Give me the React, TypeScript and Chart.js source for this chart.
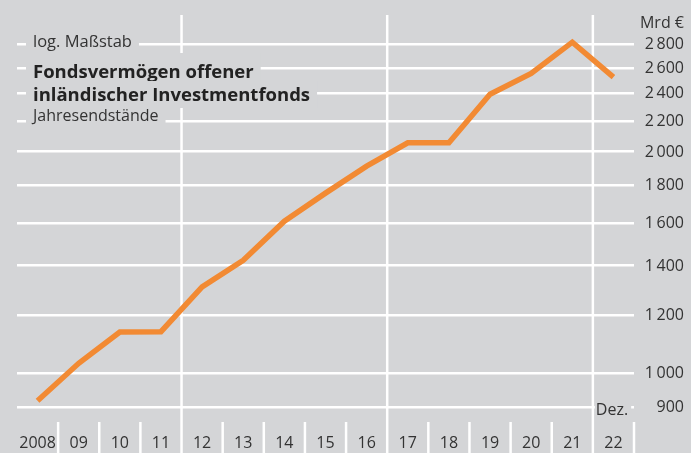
import React, { useEffect, useRef } from "react";
import { Chart, registerables } from "chart.js";

Chart.register(...registerables);

// ---- data ----
const years = ["2008", "09", "10", "11", "12", "13", "14", "15", "16", "17", "18", "19", "20", "21", "22"];
const fundAssets = [918, 1032, 1138, 1139, 1310, 1424, 1609, 1757, 1912, 2056, 2056, 2394, 2554, 2817, 2525];
const yTickValues = [900, 1000, 1200, 1400, 1600, 1800, 2000, 2200, 2400, 2600, 2800];
const unitLabel = "Mrd €";
const scaleNote = "log. Maßstab";
const titleLines = ["Fondsvermögen offener", "inländischer Investmentfonds"];
const subtitle = "Jahresendstände";
const monthNote = "Dez.";
const fullDividers = [4, 9, 14];
const yMin = 900;
const yMax = 3067;

// ---- styles ----
const BG = "#d4d5d7";
const FONT = "'Open Sans', sans-serif";
const TEXT = "#333333";
const TITLE = "#222222";
const LINE = "#f28a33";

function fmt(v: number): string {
  if (v >= 1000) {
    const t = Math.floor(v / 1000);
    const r = String(Math.round(v % 1000)).padStart(3, "0");
    return `${t}\u2009${r}`;
  }
  return String(v);
}

const decor = {
  id: "decor",
  beforeDatasetsDraw(chart: any) {
    const { ctx, chartArea, scales } = chart;
    const x = scales.x;
    const y = scales.y;
    const n = years.length;
    const step = x.getPixelForValue(1) - x.getPixelForValue(0);
    const boundary = (i: number) => x.getPixelForValue(i) - step / 2;
    const H = chart.height;
    ctx.save();
    ctx.strokeStyle = "#ffffff";
    ctx.lineWidth = 2.5;
    for (let i = 1; i <= n; i++) {
      const bx = boundary(i);
      const full = fullDividers.includes(i);
      ctx.beginPath();
      ctx.moveTo(bx, full ? chartArea.top : 422);
      ctx.lineTo(bx, H);
      ctx.stroke();
    }

    const items = [
      { text: scaleNote, font: `400 16.5px ${FONT}`, color: TEXT, base: 47, top: 33, bottom: 53 },
      { text: titleLines[0], font: `700 18.5px ${FONT}`, color: TITLE, base: 77.5, top: 53, bottom: 81 },
      { text: titleLines[1], font: `700 18.5px ${FONT}`, color: TITLE, base: 100.5, top: 81, bottom: 108 },
      { text: subtitle, font: `400 16px ${FONT}`, color: TEXT, base: 121, top: 108, bottom: 129 },
    ];
    const tx = 33;
    for (const it of items) {
      ctx.font = it.font;
      const w = ctx.measureText(it.text).width;
      ctx.fillStyle = BG;
      ctx.fillRect(26, it.top, tx + w + 7 - 26, it.bottom - it.top);
      ctx.fillStyle = it.color;
      ctx.textAlign = "left";
      ctx.textBaseline = "alphabetic";
      ctx.fillText(it.text, tx, it.base);
    }

    // Dez. note
    ctx.font = `400 16px ${FONT}`;
    const dx = boundary(14) + 2;
    const dw = ctx.measureText(monthNote).width;
    ctx.fillStyle = BG;
    ctx.fillRect(dx, 398, dw + 4, 21);
    ctx.fillStyle = TEXT;
    ctx.fillText(monthNote, dx + 1, 414.5);

    // unit label
    ctx.textAlign = "right";
    ctx.fillText(unitLabel, 684, 27.5);

    // y tick labels, right aligned, placed by the log scale
    ctx.textBaseline = "middle";
    for (const t of y.ticks) {
      ctx.fillText(fmt(t.value), 684, y.getPixelForValue(t.value) + 0.5);
    }
    ctx.restore();
  },
};

export default function App() {
  const ref = useRef<HTMLCanvasElement | null>(null);
  useEffect(() => {
    document.body.style.margin = "0";
    const canvas = ref.current!;
    const chart = new Chart(canvas, {
      type: "line",
      data: {
        labels: years,
        datasets: [
          {
            data: fundAssets,
            borderColor: LINE,
            borderWidth: 5.5,
            pointRadius: 0,
            tension: 0,
            fill: false,
            borderJoinStyle: "miter",
            borderCapStyle: "butt",
          },
        ],
      },
      options: {
        animation: false,
        responsive: false,
        devicePixelRatio: 1,
        layout: { padding: { top: 15, left: 17, right: 0, bottom: 0 } },
        plugins: { legend: { display: false }, tooltip: { enabled: false }, title: { display: false } },
        scales: {
          x: {
            type: "category",
            offset: true,
            grid: { display: false },
            border: { display: false },
            ticks: {
              color: TEXT,
              font: { family: FONT, size: 16 },
              padding: 19,
              maxRotation: 0,
              autoSkip: false,
            },
            afterFit: (s: any) => {
              s.height = 46;
              s.paddingLeft = 0;
              s.paddingRight = 0;
            },
          },
          y: {
            type: "logarithmic",
            position: "right",
            min: yMin,
            max: yMax,
            grid: { color: "#ffffff", lineWidth: 2.5, drawTicks: false },
            border: { display: false },
            afterBuildTicks: (s: any) => {
              s.ticks = yTickValues.map((v) => ({ value: v }));
            },
            ticks: { display: false },
            afterFit: (s: any) => {
              s.width = 57;
              s.paddingTop = 0;
              s.paddingBottom = 0;
            },
          },
        },
      },
      plugins: [decor],
    });
    return () => chart.destroy();
  }, []);
  return (
    <div style={{ position: "absolute", left: 0, top: 0, width: 691, height: 453, background: BG }}>
      <canvas ref={ref} width={691} height={453} style={{ display: "block" }} />
    </div>
  );
}
